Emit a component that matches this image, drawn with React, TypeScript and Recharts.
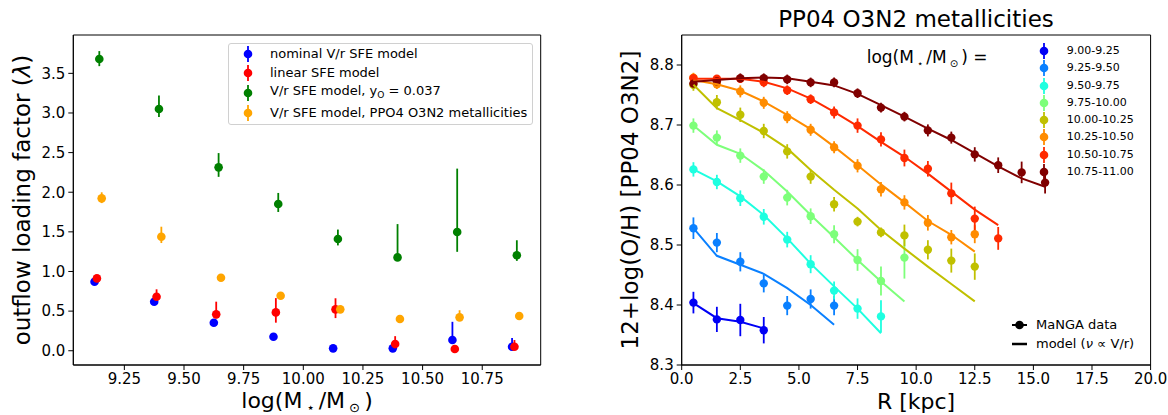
import React from 'react';
import { ScatterChart, Scatter, XAxis, YAxis, ErrorBar, ReferenceArea, Legend } from 'recharts';

const FONT = '"DejaVu Sans", sans-serif';

// ---- left panel: outflow loading factor vs stellar mass ----
const massBins = [9.125, 9.375, 9.625, 9.875, 10.125, 10.375, 10.625, 10.875];
const massTicks = [9.25, 9.5, 9.75, 10.0, 10.25, 10.5, 10.75];
const lambdaTicks = [0, 0.5, 1, 1.5, 2, 2.5, 3, 3.5];
const seriesOffsets = [0, 0.01, 0.02, 0.03];

const nominalLambda = [0.871, 0.618, 0.353, 0.177, 0.03, 0.03, 0.135, 0.05];
const nominalErr = [[0.02, 0.02], [0.02, 0.02], [0.02, 0.02], [0.02, 0.02], [0.01, 0.01], [0.01, 0.01], [0.03, 0.23], [0.02, 0.11]];
const linearLambda = [0.913, 0.681, 0.459, 0.484, 0.522, 0.084, 0.021, 0.05];
const linearErr = [[0.04, 0.04], [0.075, 0.094], [0.05, 0.16], [0.13, 0.18], [0.11, 0.14], [0.05, 0.1], [0.01, 0.01], [0.02, 0.085]];
const yoLambda = [3.681, 3.05, 2.314, 1.851, 1.409, 1.178, 1.498, 1.204];
const yoErr = [[0.09, 0.1], [0.1, 0.17], [0.12, 0.18], [0.1, 0.14], [0.08, 0.12], [0.04, 0.42], [0.25, 0.8], [0.07, 0.19]];
const pp04Lambda = [1.923, 1.439, 0.921, 0.694, 0.522, 0.4, 0.421, 0.438];
const pp04Err = [[0.06, 0.076], [0.08, 0.126], [0.03, 0.03], [0.03, 0.03], [0.03, 0.03], [0.03, 0.03], [0.04, 0.09], [0.03, 0.03]];

const leftLabels = ['nominal V/r SFE model', 'linear SFE model', 'V/r SFE model, y_O = 0.037', 'V/r SFE model, PPO4 O3N2 metallicities'];
const leftColors = ['#0000ff', '#ff0000', '#008000', '#ffa500'];
const leftValues = [nominalLambda, linearLambda, yoLambda, pp04Lambda];
const leftErrors = [nominalErr, linearErr, yoErr, pp04Err];

const LX: [number, number] = [9.036, 10.995];
const LY: [number, number] = [-0.18, 3.984];

// ---- right panel: metallicity profiles ----
const radii = [0.5, 1.5, 2.5, 3.5, 4.5, 5.5, 6.5, 7.5, 8.5, 9.5, 10.5, 11.5, 12.5, 13.5, 14.5, 15.5];
const rTicks = [0, 2.5, 5, 7.5, 10, 12.5, 15, 17.5, 20];
const zTicks = [8.3, 8.4, 8.5, 8.6, 8.7, 8.8];

const binLabels = ['9.00-9.25', '9.25-9.50', '9.50-9.75', '9.75-10.00', '10.00-10.25', '10.25-10.50', '10.50-10.75', '10.75-11.00'];
const binColors = ['#0000f5', '#0a80ff', '#1effe0', '#7dff7a', '#c0c000', '#ff8c00', '#ff2a00', '#800000'];

const bin1Data = [8.404, 8.376, 8.375, 8.358];
const bin1Err = [0.018, 0.021, 0.027, 0.022];
const bin1Model = [8.403, 8.378, 8.372, 8.361];
const bin2Data = [8.528, 8.504, 8.472, 8.436, 8.399, 8.41, 8.399];
const bin2Err = [0.018, 0.016, 0.016, 0.015, 0.016, 0.016, 0.016];
const bin2Model = [8.528, 8.482, 8.467, 8.452, 8.428, 8.4, 8.367];
const bin3Data = [8.626, 8.605, 8.578, 8.547, 8.509, 8.468, 8.424, 8.394, 8.381];
const bin3Err = [0.012, 0.012, 0.013, 0.013, 0.013, 0.015, 0.015, 0.017, 0.027];
const bin3Model = [8.626, 8.606, 8.581, 8.55, 8.511, 8.469, 8.431, 8.394, 8.353];
const bin4Data = [8.699, 8.679, 8.649, 8.614, 8.579, 8.548, 8.518, 8.475, 8.44, 8.479];
const bin4Err = [0.012, 0.012, 0.012, 0.012, 0.013, 0.013, 0.015, 0.018, 0.024, 0.035];
const bin4Model = [8.699, 8.667, 8.652, 8.624, 8.589, 8.55, 8.513, 8.475, 8.439, 8.406];
const bin5Data = [8.767, 8.738, 8.717, 8.69, 8.656, 8.614, 8.568, 8.539, 8.521, 8.516, 8.492, 8.474, 8.464];
const bin5Err = [0.01, 0.012, 0.012, 0.012, 0.012, 0.012, 0.012, 0.008, 0.008, 0.018, 0.016, 0.02, 0.022];
const bin5Model = [8.767, 8.728, 8.708, 8.687, 8.661, 8.625, 8.592, 8.561, 8.525, 8.494, 8.464, 8.435, 8.406];
const bin6Data = [8.779, 8.768, 8.756, 8.737, 8.713, 8.692, 8.663, 8.632, 8.593, 8.571, 8.537, 8.513, 8.518];
const bin6Err = [0.008, 0.008, 0.01, 0.01, 0.01, 0.01, 0.01, 0.011, 0.012, 0.012, 0.013, 0.012, 0.015];
const bin6Model = [8.775, 8.768, 8.757, 8.739, 8.717, 8.693, 8.664, 8.633, 8.601, 8.571, 8.54, 8.517, 8.489];
const bin7Data = [8.778, 8.777, 8.777, 8.771, 8.758, 8.743, 8.721, 8.699, 8.676, 8.645, 8.627, 8.586, 8.544, 8.511];
const bin7Err = [0.006, 0.006, 0.006, 0.008, 0.008, 0.008, 0.01, 0.012, 0.012, 0.014, 0.013, 0.018, 0.02, 0.019];
const bin7Model = [8.777, 8.777, 8.777, 8.772, 8.761, 8.744, 8.722, 8.698, 8.672, 8.647, 8.619, 8.589, 8.559, 8.533];
const bin8Data = [8.769, 8.773, 8.778, 8.778, 8.776, 8.771, 8.771, 8.753, 8.729, 8.714, 8.691, 8.679, 8.651, 8.633, 8.621, 8.604];
const bin8Err = [0.008, 0.008, 0.008, 0.008, 0.008, 0.008, 0.008, 0.008, 0.008, 0.008, 0.01, 0.01, 0.012, 0.013, 0.018, 0.018];
const bin8Model = [8.772, 8.775, 8.778, 8.779, 8.778, 8.772, 8.766, 8.752, 8.733, 8.714, 8.694, 8.675, 8.653, 8.631, 8.611, 8.597];

const binData = [bin1Data, bin2Data, bin3Data, bin4Data, bin5Data, bin6Data, bin7Data, bin8Data];
const binErr = [bin1Err, bin2Err, bin3Err, bin4Err, bin5Err, bin6Err, bin7Err, bin8Err];
const binModel = [bin1Model, bin2Model, bin3Model, bin4Model, bin5Model, bin6Model, bin7Model, bin8Model];

const RX: [number, number] = [0, 20];
const RY: [number, number] = [8.3, 8.85];

const tickStyle = { fontFamily: FONT, fontSize: 15, fill: '#000' };

const dot = (color: string, r = 4.3) => (p: any) => <circle cx={p.cx} cy={p.cy} r={r} fill={color} />;
const noDot = () => <g />;

// little legend handle: dot with a vertical error bar through it
const ErrHandle = ({ color }: { color: string }) => (
  <svg width={14} height={18} style={{ display: 'block' }}>
    <line x1={7} y1={1} x2={7} y2={17} stroke={color} strokeWidth={1.8} />
    <circle cx={7} cy={9} r={4.3} fill={color} />
  </svg>
);

const renderLabel = (s: string) => {
  if (s.indexOf('_O') < 0) return s;
  const [a, b] = s.split('_O');
  return <>{a}<sub style={{ fontSize: '0.7em', verticalAlign: '-0.3em' }}>O</sub>{b}</>;
};

const LeftLegend = () => (
  <div style={{ position: 'absolute', left: 228, top: 42.7, width: 305, height: 82.3, boxSizing: 'border-box', border: '1px solid #d0d0d0', borderRadius: 3, background: 'rgba(255,255,255,0.8)' }}>
    {leftLabels.map((lab, i) => (
      <div key={lab} style={{ position: 'absolute', left: 0, top: 9.9 + i * 19.75 - 9, height: 18, display: 'flex', alignItems: 'center' }}>
        <div style={{ position: 'absolute', left: 12.3 }}><ErrHandle color={leftColors[i]} /></div>
        <div style={{ position: 'absolute', left: 41, whiteSpace: 'nowrap', fontFamily: FONT, fontSize: 13, lineHeight: '18px', color: '#000' }}>{renderLabel(lab)}</div>
      </div>
    ))}
  </div>
);

const RightLegend = () => (
  <>
    <div style={{ position: 'absolute', left: 286.7, top: 57.4 - 11, height: 22, lineHeight: '22px', fontFamily: FONT, fontSize: 17, whiteSpace: 'nowrap', color: '#000' }}>
      log(M<sub style={{ fontSize: '0.6em', verticalAlign: '-0.35em', margin: '0 3px' }}>⋆</sub>/M<sub style={{ fontSize: '0.6em', verticalAlign: '-0.35em', margin: '0 3px' }}>⊙</sub>) =
    </div>
    {binLabels.map((lab, i) => (
      <div key={lab} style={{ position: 'absolute', left: 0, top: 51 + i * 17.25 - 9, height: 18 }}>
        <div style={{ position: 'absolute', left: 457.3 }}><ErrHandle color={binColors[i]} /></div>
        <div style={{ position: 'absolute', left: 486.7, whiteSpace: 'nowrap', fontFamily: FONT, fontSize: 11, lineHeight: '18px', color: '#000' }}>{lab}</div>
      </div>
    ))}
    <div style={{ position: 'absolute', left: 0, top: 325 - 9, height: 18 }}>
      <svg width={18} height={18} style={{ position: 'absolute', left: 429.5 }}>
        <line x1={2} y1={9} x2={17} y2={9} stroke="#000" strokeWidth={2} />
        <circle cx={9.5} cy={9} r={4.3} fill="#000" />
      </svg>
      <div style={{ position: 'absolute', left: 456, whiteSpace: 'nowrap', fontFamily: FONT, fontSize: 13, lineHeight: '18px', color: '#000' }}>MaNGA data</div>
    </div>
    <div style={{ position: 'absolute', left: 0, top: 344.3 - 9, height: 18 }}>
      <svg width={18} height={18} style={{ position: 'absolute', left: 429.5 }}>
        <line x1={2} y1={9} x2={17} y2={9} stroke="#000" strokeWidth={2.5} />
      </svg>
      <div style={{ position: 'absolute', left: 456, whiteSpace: 'nowrap', fontFamily: FONT, fontSize: 13, lineHeight: '18px', color: '#000' }}>model (<i>ν</i> ∝ V/r)</div>
    </div>
  </>
);

const axisLabel: React.CSSProperties = { position: 'absolute', fontFamily: FONT, fontSize: 23, lineHeight: 1, whiteSpace: 'nowrap', color: '#000', transform: 'translate(-50%, -50%)' };
const xLabel: React.CSSProperties = { ...axisLabel, fontSize: 22 };
const subStyle: React.CSSProperties = { fontSize: '0.6em', verticalAlign: '-0.3em', margin: '0 4px' };

export default function App() {
  const leftSeries = leftValues.map((vals, s) =>
    vals.map((y, i) => ({ x: massBins[i] + seriesOffsets[s], y, err: leftErrors[s][i] }))
  );
  const rightPoints = binData.map((vals, s) => vals.map((y, i) => ({ x: radii[i], y, err: binErr[s][i] })));
  const rightModels = binModel.map((vals) => vals.map((y, i) => ({ x: radii[i], y })));

  return (
    <div style={{ position: 'absolute', left: 0, top: 0, width: 1168, height: 415, background: '#fff', overflow: 'hidden' }}>
      <div style={{ position: 'absolute', left: 0, top: 0 }}>
        <ScatterChart width={560} height={415} margin={{ top: 35, right: 19.3, bottom: 0, left: 0 }}>
          <XAxis type="number" dataKey="x" domain={LX} allowDataOverflow ticks={massTicks}
            tickFormatter={(v: number) => v.toFixed(2)} tick={tickStyle} tickSize={5} tickMargin={3}
            height={50} stroke="#000" />
          <YAxis type="number" dataKey="y" domain={LY} allowDataOverflow ticks={lambdaTicks}
            tickFormatter={(v: number) => v.toFixed(1)} tick={tickStyle} tickSize={5} tickMargin={3}
            width={73.3} stroke="#000" />
          <ReferenceArea x1={LX[0]} x2={LX[1]} y1={LY[0]} y2={LY[1]} fill="#fff" fillOpacity={0} stroke="#000" strokeWidth={1} strokeOpacity={1} />
          {leftSeries.map((data, s) => (
            <Scatter key={leftLabels[s]} name={leftLabels[s]} data={data} fill={leftColors[s]} shape={dot(leftColors[s])} isAnimationActive={false}>
              <ErrorBar dataKey="err" direction="y" width={0} stroke={leftColors[s]} strokeWidth={1.8} />
            </Scatter>
          ))}
          <Legend layout="vertical" align="center" verticalAlign="middle" content={() => <LeftLegend />}
            wrapperStyle={{ left: 0, top: 0, width: 560, height: 415, pointerEvents: 'none' }} />
        </ScatterChart>
      </div>

      <div style={{ position: 'absolute', left: 580, top: 0 }}>
        <ScatterChart width={588} height={415} margin={{ top: 35, right: 17.4, bottom: 0, left: 0 }}>
          <XAxis type="number" dataKey="x" domain={RX} allowDataOverflow ticks={rTicks}
            tickFormatter={(v: number) => v.toFixed(1)} tick={tickStyle} tickSize={5} tickMargin={3}
            height={50} stroke="#000" />
          <YAxis type="number" dataKey="y" domain={RY} allowDataOverflow ticks={zTicks}
            tickFormatter={(v: number) => v.toFixed(1)} tick={tickStyle} tickSize={5} tickMargin={3}
            width={101.7} stroke="#000" />
          <ReferenceArea x1={RX[0]} x2={RX[1]} y1={RY[0]} y2={RY[1]} fill="#fff" fillOpacity={0} stroke="#000" strokeWidth={1} strokeOpacity={1} />
          {rightPoints.map((data, s) => (
            <Scatter key={'p' + binLabels[s]} name={binLabels[s]} data={data} fill={binColors[s]} shape={dot(binColors[s], 4.2)} isAnimationActive={false}>
              <ErrorBar dataKey="err" direction="y" width={0} stroke={binColors[s]} strokeWidth={1.8} />
            </Scatter>
          ))}
          {rightModels.map((data, s) => (
            <Scatter key={'m' + binLabels[s]} name={'model ' + binLabels[s]} data={data} fill={binColors[s]}
              line={{ stroke: binColors[s], strokeWidth: 2 }} lineType="joint" shape={noDot} isAnimationActive={false} />
          ))}
          <Legend layout="vertical" align="center" verticalAlign="middle" content={() => <RightLegend />}
            wrapperStyle={{ left: 0, top: 0, width: 588, height: 415, pointerEvents: 'none' }} />
        </ScatterChart>
      </div>

      {/* axis labels and title */}
      <div style={{ ...axisLabel, left: 22, top: 200, transform: 'translate(-50%, -50%) rotate(-90deg)' }}>
        outflow loading factor (<i>λ</i>)
      </div>
      <div style={{ ...xLabel, left: 307, top: 402 }}>
        log(M<sub style={subStyle}>⋆</sub>/M<sub style={subStyle}>⊙</sub>)
      </div>
      <div style={{ ...axisLabel, left: 916, top: 19 }}>PP04 O3N2 metallicities</div>
      <div style={{ ...axisLabel, left: 630, top: 200, transform: 'translate(-50%, -50%) rotate(-90deg)' }}>
        12+log(O/H) [PP04 O3N2]
      </div>
      <div style={{ ...xLabel, left: 916, top: 402 }}>R [kpc]</div>
    </div>
  );
}
